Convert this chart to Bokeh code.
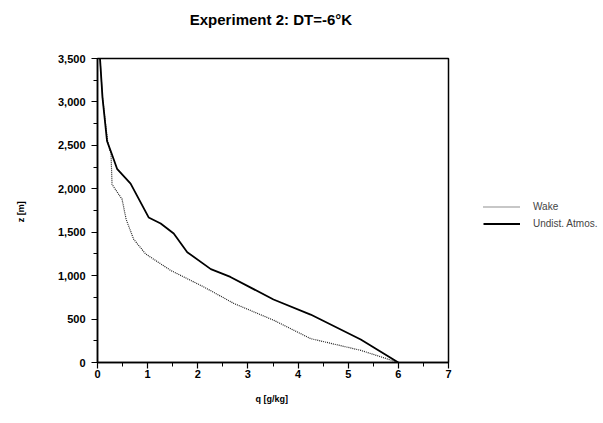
from bokeh.plotting import figure
from bokeh.models import FixedTicker, Legend, Range1d, Title
from bokeh.embed import file_html
from bokeh.resources import INLINE

# Wake profile (dotted)
wake_q = [0.05, 0.10, 0.20, 0.27, 0.29, 0.49, 0.57, 0.72, 0.96, 1.46, 2.12, 2.72, 3.52, 4.25, 5.25, 6.00]
wake_z = [3500, 3050, 2550, 2400, 2050, 1880, 1650, 1420, 1250, 1060, 870, 680, 485, 275, 140, 0]

# Undisturbed atmosphere profile (solid)
atm_q = [0.05, 0.10, 0.19, 0.26, 0.39, 0.66, 1.02, 1.26, 1.52, 1.79, 2.26, 2.65, 3.51, 4.25, 4.45, 5.25, 6.00]
atm_z = [3500, 3050, 2550, 2440, 2230, 2060, 1670, 1600, 1485, 1270, 1075, 985, 725, 552, 495, 265, 0]

x_ticks = [0, 1, 2, 3, 4, 5, 6, 7]
x_minor = [0.5, 1.5, 2.5, 3.5, 4.5, 5.5, 6.5]
y_ticks = [0, 500, 1000, 1500, 2000, 2500, 3000, 3500]
y_minor = [250, 750, 1250, 1750, 2250, 2750, 3250]
y_labels = ["0", "500", "1,000", "1,500", "2,000", "2,500", "3,000", "3,500"]
title_text = "Experiment 2:  DT=-6°K"

FONT = "Liberation Sans"

p = figure(frame_width=351, frame_height=304, output_backend="svg", toolbar_location=None,
           x_range=Range1d(0, 7), y_range=Range1d(0, 3500),
           min_border_left=97, min_border_right=150, min_border_top=58, min_border_bottom=55,
           title=None)

# spacer title (blank) pushes the real title upward
p.add_layout(Title(text=" ", text_font=FONT, text_font_size="10px", standoff=10), "above")
p.add_layout(Title(text=title_text, align="center", text_font=FONT, text_font_size="15px",
                   text_font_style="bold", text_color="black", standoff=15), "above")

p.grid.visible = False
p.outline_line_color = "black"
p.outline_line_width = 1.5
p.background_fill_color = "white"

for ax in (p.xaxis[0], p.yaxis[0]):
    ax.axis_line_color = "black"
    ax.axis_line_width = 1.5
    ax.major_tick_in = 0
    ax.minor_tick_in = 0
    ax.major_tick_out = 6
    ax.minor_tick_out = 4
    ax.major_tick_line_width = 1.2
    ax.minor_tick_line_width = 1
    ax.major_label_text_font = FONT
    ax.major_label_text_font_size = "11px"
    ax.major_label_text_font_style = "bold"
    ax.major_label_text_color = "black"
    ax.axis_label_text_font = FONT
    ax.axis_label_text_font_size = "9px"
    ax.axis_label_text_font_style = "bold"
    ax.axis_label_text_color = "black"

p.xaxis.ticker = FixedTicker(ticks=x_ticks, minor_ticks=x_minor)
p.yaxis.ticker = FixedTicker(ticks=y_ticks, minor_ticks=y_minor)
p.yaxis.major_label_overrides = {t: l for t, l in zip(y_ticks, y_labels)}
p.xaxis.axis_label = "q  [g/kg]"
p.yaxis.axis_label = "z  [m]"
p.xaxis.axis_label_standoff = 13
p.xaxis.major_label_standoff = 1
p.yaxis.axis_label_standoff = 29
p.yaxis.major_label_standoff = 6

r_wake = p.line(wake_q, wake_z, line_color="#222222", line_width=1.2, line_dash="1 1")
r_atm = p.line(atm_q, atm_z, line_color="black", line_width=1.8)

legend = Legend(items=[("Wake", [r_wake]), ("Undist. Atmos.", [r_atm])],
                location=(35, 130), margin=0, padding=0, spacing=0,
                glyph_width=37, glyph_height=17, label_standoff=13,
                label_text_font=FONT, label_text_font_size="10px",
                border_line_color=None, background_fill_alpha=0)
p.add_layout(legend, "right")

open("out.html", "w").write(file_html(p, INLINE))
